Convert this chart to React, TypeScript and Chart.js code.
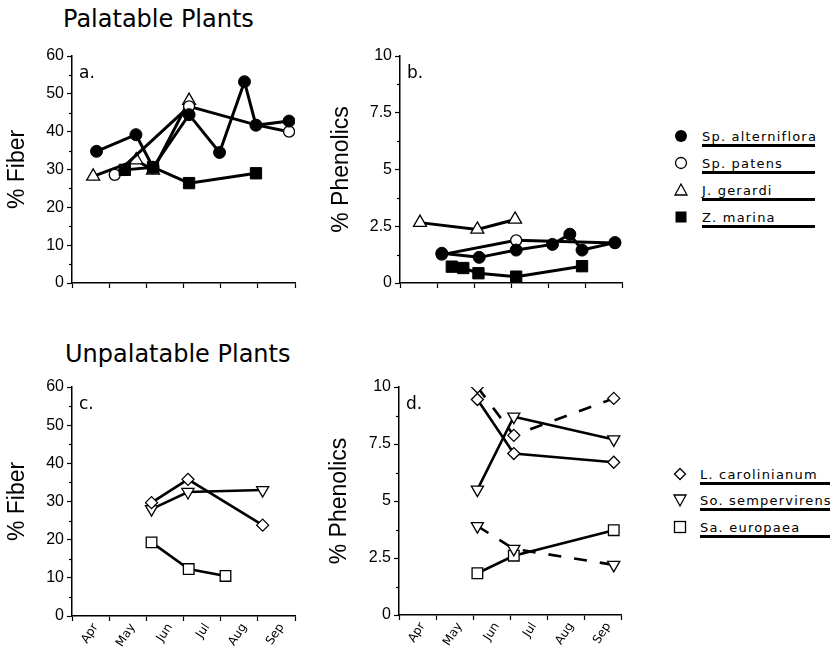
import React, { useEffect, useRef } from 'react';
import { Chart, registerables } from 'chart.js';

Chart.register(...registerables);

// ---------- DATA (x = months after 1 April) ----------
const MONTHS = ['Apr', 'May', 'Jun', 'Jul', 'Aug', 'Sep'];
const FIBER_TICKS_MINOR = [5, 15, 25, 35, 45, 55];
const PHEN_TICKS_MINOR = [1.25, 3.75, 6.25, 8.75];

// Panel a: % Fiber, palatable
const A_ALT_X = [0.66, 1.72, 2.18, 3.15, 3.97, 4.64, 4.95, 5.84];
const A_ALT_Y = [34.8, 39.2, 30.6, 44.5, 34.5, 53.2, 41.7, 42.8];
const A_PAT_X = [1.15, 3.15, 4.95, 5.84];
const A_PAT_Y = [28.6, 46.7, 41.8, 40.0];
const A_GER_X = [0.57, 1.73, 2.18, 3.15];
const A_GER_Y = [28.2, 32.5, 29.8, 48.2];
const A_MAR_X = [1.42, 2.18, 3.15, 4.95];
const A_MAR_Y = [29.9, 30.6, 26.4, 29.0];

// Panel b: % Phenolics, palatable
const B_ALT_X = [1.13, 2.14, 3.14, 4.12, 4.59, 4.92, 5.81];
const B_ALT_Y = [1.31, 1.13, 1.45, 1.70, 2.15, 1.45, 1.78];
const B_PAT_X = [1.13, 3.14, 5.81];
const B_PAT_Y = [1.25, 1.88, 1.76];
const B_GER_X = [0.54, 2.09, 3.11];
const B_GER_Y = [2.66, 2.36, 2.80];
const B_MAR_X = [1.40, 1.71, 2.12, 3.14, 4.92];
const B_MAR_Y = [0.72, 0.66, 0.43, 0.28, 0.74];

// Panel c: % Fiber, unpalatable
const C_CAR_X = [2.14, 3.12, 5.13];
const C_CAR_Y = [29.7, 35.8, 23.8];
const C_SEM_X = [2.14, 3.12, 5.13];
const C_SEM_Y = [28.0, 32.5, 33.0];
const C_EUR_X = [2.14, 3.14, 4.13];
const C_EUR_Y = [19.3, 12.3, 10.5];

// Panel d: % Phenolics, unpalatable
const D_X = [2.11, 3.09, 5.78];
const D_CAR_SOLID_Y = [9.45, 7.08, 6.70];
const D_CAR_DASH_Y = [10.0, 7.88, 9.50];
const D_SEM_SOLID_Y = [5.50, 8.70, 7.70];
const D_SEM_DASH_Y = [3.90, 2.90, 2.20];
const D_EUR_Y = [1.83, 2.60, 3.72];

const LEGEND_TOP = ['Sp. alterniflora', 'Sp. patens', 'J. gerardi', 'Z. marina'];
const LEGEND_BOTTOM = ['L. carolinianum', 'So. sempervirens', 'Sa. europaea'];

// ---------- styles ----------
type Sty = { style: string; r: number; fill: boolean; rot?: number; bw: number };
const ST_ALT: Sty = { style: 'circle', r: 6, fill: true, bw: 3 };
const ST_PAT: Sty = { style: 'circle', r: 5.5, fill: false, bw: 3 };
const ST_GER: Sty = { style: 'triangle', r: 7.5, fill: false, bw: 3 };
const ST_MAR: Sty = { style: 'rect', r: 8, fill: true, bw: 3 };
const ST_CAR: Sty = { style: 'rectRot', r: 6, fill: false, bw: 2.6 };
const ST_SEM: Sty = { style: 'triangle', r: 7, fill: false, rot: 180, bw: 2.6 };
const ST_EUR: Sty = { style: 'rect', r: 7.5, fill: false, bw: 2.6 };

function ds(xs: number[], ys: number[], s: Sty, dash?: number[]) {
  return {
    data: xs.map((x, i) => ({ x, y: ys[i] })),
    borderColor: '#000',
    borderWidth: s.bw,
    borderDash: dash || [],
    tension: 0,
    fill: false,
    pointStyle: s.style,
    pointRadius: s.r,
    pointRotation: s.rot || 0,
    pointBackgroundColor: s.fill ? '#000' : '#fff',
    pointBorderColor: '#000',
    pointBorderWidth: s.fill ? 1 : 1.3,
  };
}

const HALF_TICKS = [0, 0.5, 1, 1.5, 2, 2.5, 3, 3.5, 4, 4.5, 5, 5.5, 6];

const decorPlugin = {
  id: 'decor',
  afterDraw(chart: any, _args: any, opts: any) {
    const { ctx, chartArea, scales } = chart;
    ctx.save();
    ctx.strokeStyle = '#000';
    ctx.lineWidth = 1.2;
    (opts.minor || []).forEach((v: number) => {
      const py = Math.round(scales.y.getPixelForValue(v)) + 0.5;
      ctx.beginPath();
      ctx.moveTo(chartArea.left - 3, py);
      ctx.lineTo(chartArea.left, py);
      ctx.stroke();
    });
    ctx.fillStyle = '#000';
    ctx.font = '17px "DejaVu Sans"';
    ctx.textBaseline = 'alphabetic';
    ctx.fillText(opts.label, chartArea.left + 7, chartArea.top + 22);
    ctx.restore();
  },
};

type Box = { l: number; t: number; w: number; h: number };
type Area = { l: number; t: number; r: number; b: number };

function Panel(props: {
  box: Box; area: Area; datasets: any[]; yMax: number; yStep: number; yTitle: string;
  label: string; months: boolean; minor: number[]; titlePad: number;
}) {
  const ref = useRef<HTMLCanvasElement>(null);
  const { box, area } = props;
  useEffect(() => {
    if (!ref.current) return;
    const chart = new Chart(ref.current, {
      type: 'line',
      data: { datasets: props.datasets },
      options: {
        animation: false,
        responsive: false,
        maintainAspectRatio: false,
        devicePixelRatio: 1,
        layout: { padding: { top: area.t - box.t, right: box.l + box.w - area.r, bottom: 0, left: 0 } },
        plugins: {
          legend: { display: false },
          tooltip: { enabled: false },
          decor: { label: props.label, minor: props.minor },
        } as any,
        scales: {
          x: {
            type: 'linear',
            min: 0,
            max: 6,
            afterBuildTicks: (s: any) => { s.ticks = HALF_TICKS.map((v) => ({ value: v })); },
            afterFit: (s: any) => { s.height = box.t + box.h - area.b; },
            border: { display: true, color: '#000', width: 1.5 },
            grid: {
              drawOnChartArea: false,
              drawTicks: true,
              tickLength: 5,
              tickWidth: 1.2,
              tickColor: (c: any) => (c.tick && Number.isInteger(c.tick.value) ? '#000' : 'rgba(0,0,0,0)'),
            },
            ticks: {
              display: props.months,
              autoSkip: false,
              minRotation: 57,
              maxRotation: 57,
              padding: 0,
              labelOffset: 5,
              color: '#000',
              font: { family: 'DejaVu Sans', size: 12 },
              callback: (v: any) => {
                const n = Number(v);
                return n - Math.floor(n) === 0.5 ? MONTHS[Math.floor(n)] : '';
              },
            },
          },
          y: {
            type: 'linear',
            min: 0,
            max: props.yMax,
            afterFit: (s: any) => { s.width = area.l - box.l; },
            border: { display: true, color: '#000', width: 1.5 },
            grid: { drawOnChartArea: false, drawTicks: true, tickLength: 5, tickWidth: 1.2, tickColor: '#000' },
            ticks: {
              stepSize: props.yStep,
              color: '#000',
              padding: 3,
              font: { family: 'Liberation Sans', size: 16 },
              callback: (v: any) => String(v),
            },
            title: {
              display: true,
              text: props.yTitle,
              color: '#000',
              font: { family: 'Liberation Sans', size: 23 },
              padding: { top: props.titlePad, bottom: 0 },
            },
          },
        },
      } as any,
      plugins: [decorPlugin],
    });
    return () => chart.destroy();
  }, []);
  return (
    <canvas
      ref={ref}
      width={box.w}
      height={box.h}
      style={{ position: 'absolute', left: box.l, top: box.t, width: box.w, height: box.h }}
    />
  );
}

function Marker({ kind, x, y }: { kind: string; x: number; y: number }) {
  const s = 16;
  let el: any = null;
  if (kind === 'fcircle') el = <circle cx={8} cy={8} r={6} fill="#000" />;
  if (kind === 'ocircle') el = <circle cx={8} cy={8} r={5.5} fill="#fff" stroke="#000" strokeWidth={1.3} />;
  if (kind === 'tri') el = <polygon points="8,2 14,13 2,13" fill="#fff" stroke="#000" strokeWidth={1.3} />;
  if (kind === 'fsquare') el = <rect x={2.5} y={2.5} width={11} height={11} fill="#000" />;
  if (kind === 'diamond') el = <polygon points="8,2.5 13.5,8 8,13.5 2.5,8" fill="#fff" stroke="#000" strokeWidth={1.3} />;
  if (kind === 'tridown') el = <polygon points="2,3 14,3 8,14" fill="#fff" stroke="#000" strokeWidth={1.3} />;
  if (kind === 'osquare') el = <rect x={2.5} y={2.5} width={11} height={11} fill="#fff" stroke="#000" strokeWidth={1.3} />;
  return (
    <svg width={s} height={s} style={{ position: 'absolute', left: x - 8, top: y - 8 }}>
      {el}
    </svg>
  );
}

function LegendRow({ text, kind, symX, textX, baseline, lineEnd }: any) {
  return (
    <>
      <Marker kind={kind} x={symX} y={baseline - 5} />
      <div
        style={{
          position: 'absolute', left: textX, top: baseline - 11, fontFamily: '"DejaVu Sans"', fontSize: 13,
          lineHeight: '13px', letterSpacing: 1.2, color: '#000', whiteSpace: 'nowrap',
        }}
      >
        {text}
      </div>
      <div style={{ position: 'absolute', left: textX, top: baseline + 3, width: lineEnd - textX, height: 2.5, background: '#000' }} />
    </>
  );
}

export default function App() {
  const a = [ds(A_ALT_X, A_ALT_Y, ST_ALT), ds(A_MAR_X, A_MAR_Y, ST_MAR), ds(A_PAT_X, A_PAT_Y, ST_PAT), ds(A_GER_X, A_GER_Y, ST_GER)];
  const b = [ds(B_ALT_X, B_ALT_Y, ST_ALT), ds(B_MAR_X, B_MAR_Y, ST_MAR), ds(B_PAT_X, B_PAT_Y, ST_PAT), ds(B_GER_X, B_GER_Y, ST_GER)];
  const c = [ds(C_CAR_X, C_CAR_Y, ST_CAR), ds(C_SEM_X, C_SEM_Y, ST_SEM), ds(C_EUR_X, C_EUR_Y, ST_EUR)];
  const d = [
    ds(D_X, D_CAR_SOLID_Y, ST_CAR),
    ds(D_X, D_CAR_DASH_Y, ST_CAR, [13, 13]),
    ds(D_X, D_SEM_SOLID_Y, ST_SEM),
    ds(D_X, D_SEM_DASH_Y, ST_SEM, [13, 13]),
    ds(D_X, D_EUR_Y, ST_EUR),
  ];
  const titleStyle: any = { position: 'absolute', fontFamily: '"DejaVu Sans"', fontSize: 24, lineHeight: '24px', color: '#000', whiteSpace: 'nowrap' };
  const topKinds = ['fcircle', 'ocircle', 'tri', 'fsquare'];
  const topBase = [141, 168, 195, 222];
  const botKinds = ['diamond', 'tridown', 'osquare'];
  const botBase = [479, 505, 532];
  return (
    <div style={{ position: 'absolute', left: 0, top: 0, width: 833, height: 648, background: '#fff', overflow: 'hidden' }}>
      <div style={{ ...titleStyle, left: 63, top: 7 }}>Palatable Plants</div>
      <div style={{ ...titleStyle, left: 65, top: 342 }}>Unpalatable Plants</div>
      <Panel box={{ l: 0, t: 36, w: 310, h: 264 }} area={{ l: 72, t: 56, r: 295, b: 283 }} datasets={a} yMax={60} yStep={10}
        yTitle="% Fiber" label="a." months={false} minor={FIBER_TICKS_MINOR} titlePad={4} />
      <Panel box={{ l: 322, t: 36, w: 312, h: 264 }} area={{ l: 400, t: 56, r: 622, b: 283 }} datasets={b} yMax={10} yStep={2.5}
        yTitle="% Phenolics" label="b." months={false} minor={PHEN_TICKS_MINOR} titlePad={6} />
      <Panel box={{ l: 0, t: 368, w: 310, h: 280 }} area={{ l: 72, t: 387, r: 295, b: 616 }} datasets={c} yMax={60} yStep={10}
        yTitle="% Fiber" label="c." months={true} minor={FIBER_TICKS_MINOR} titlePad={4} />
      <Panel box={{ l: 322, t: 368, w: 312, h: 280 }} area={{ l: 399, t: 387, r: 622, b: 615 }} datasets={d} yMax={10} yStep={2.5}
        yTitle="% Phenolics" label="d." months={true} minor={PHEN_TICKS_MINOR} titlePad={4} />
      {LEGEND_TOP.map((t, i) => (
        <LegendRow key={t} text={t} kind={topKinds[i]} symX={681} textX={702} baseline={topBase[i]} lineEnd={815} />
      ))}
      {LEGEND_BOTTOM.map((t, i) => (
        <LegendRow key={t} text={t} kind={botKinds[i]} symX={680} textX={700} baseline={botBase[i]} lineEnd={830} />
      ))}
    </div>
  );
}
